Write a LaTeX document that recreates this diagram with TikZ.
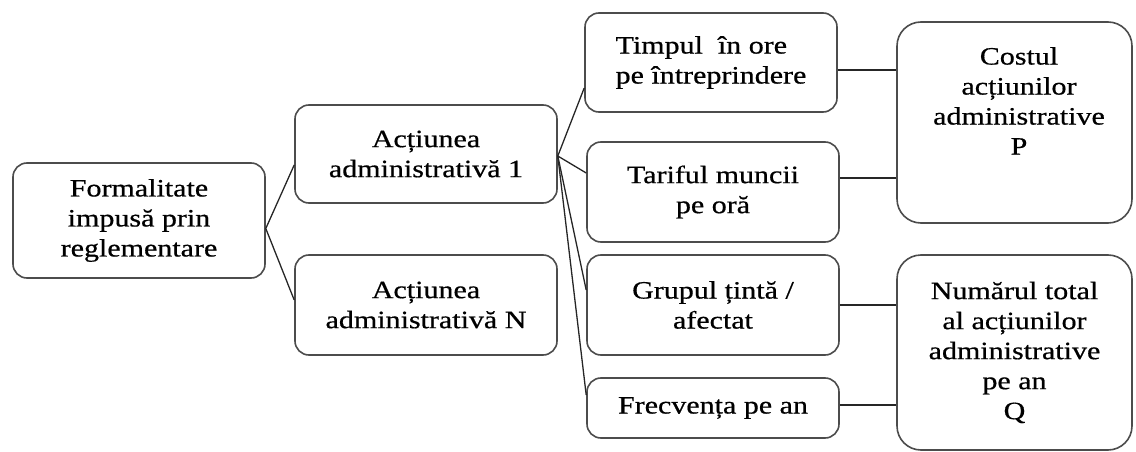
\documentclass[tikz,border=0pt]{standalone}
\usepackage{fontspec}
\setmainfont{Liberation Serif}[FakeStretch=1.2,FakeBold=0.6]
\begin{document}
\begin{tikzpicture}[x=1pt,y=-1pt,
  box/.style={draw=black!70, line width=1.6pt, rounded corners=14pt, fill=white,
              inner sep=0pt, align=center, font=\fontsize{25}{30}\selectfont},
  big/.style={box, rounded corners=24pt},
  txt/.style={inner sep=0pt, align=center, font=\fontsize{25}{30}\selectfont},
  link/.style={draw=black!85, line width=1.3pt}]
\useasboundingbox (0,0) rectangle (1136,452);

% column 1
\node[box, minimum width=252pt, minimum height=115pt] (f) at (139,220.5)
  {Formalitate\\impusă prin\\reglementare};

% column 2
\node[box, minimum width=262pt, minimum height=98pt] (a1) at (426,154)
  {Acțiunea\\administrativă 1};
\node[box, minimum width=262pt, minimum height=100pt] (an) at (426,305)
  {Acțiunea\\administrativă N};

% column 3
\node[box, minimum width=252pt, minimum height=99pt, align=left] (t) at (711,62.5)
  {Timpul~ în ore\\pe întreprindere};
\node[box, minimum width=252pt, minimum height=100pt] (ta) at (713,192)
  {Tariful muncii\\pe oră};
\node[box, minimum width=252pt, minimum height=100pt] (g) at (713,305)
  {Grupul țintă /\\afectat};
\node[box, minimum width=252pt, minimum height=60pt] (fr) at (713,408)
  {Frecvența pe an};

% column 4
\node[big, minimum width=235pt, minimum height=201pt] (c) at (1014.5,122.5) {};
\node[txt, anchor=north] (ct) at (1019,47)
  {Costul\\acțiunilor\\administrative\\P};
\node[big, minimum width=235pt, minimum height=195pt] (n) at (1014.5,352.5)
  {Numărul total\\al acțiunilor\\administrative\\pe an\\Q};

% connectors column 1 -> 2
\coordinate (fj) at ([yshift=-8pt]f.east);
\draw[link] ([yshift=-11pt]a1.west) -- (fj) -- ([yshift=5pt]an.west);

% connectors column 2 -> 3
\coordinate (aj) at ([yshift=-2pt]a1.east);
\draw[link] (aj) -- ([yshift=-25.5pt]t.west);
\draw[link] (aj) -- ([yshift=19pt]ta.west);
\draw[link] (aj) -- ([yshift=15pt]g.west);
\draw[link] (aj) -- ([yshift=13pt]fr.west);

% connectors column 3 -> 4
\draw[link] ([yshift=-7.5pt]t.east) coordinate (p1) -- (p1 -| c.west);
\draw[link] ([yshift=14pt]ta.east) coordinate (p2) -- (p2 -| c.west);
\draw[link] (g.east) -- (g.east -| n.west);
\draw[link] ([yshift=3pt]fr.east) coordinate (p4) -- (p4 -| n.west);
\end{tikzpicture}
\end{document}
